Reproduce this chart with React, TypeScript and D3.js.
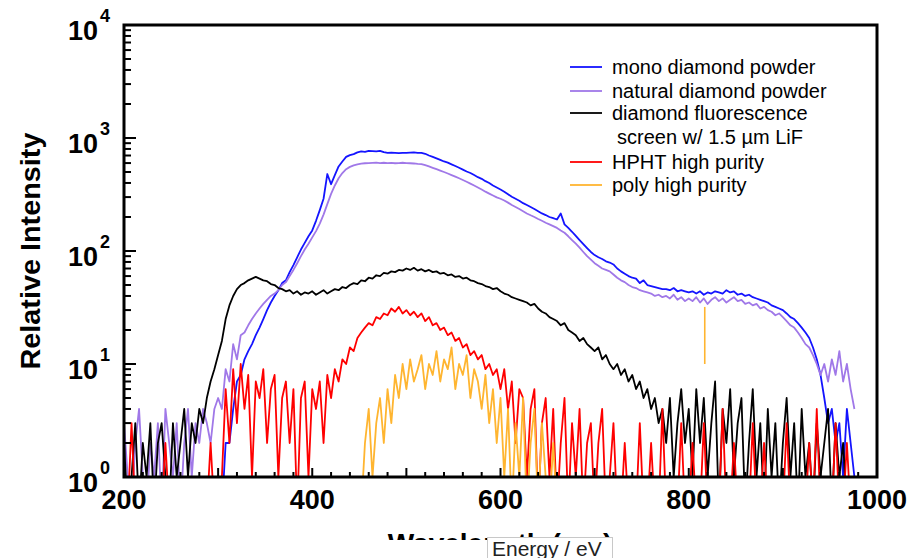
import React from "react";
import * as d3 from "d3";

// all spectra sampled every 4 nm
const STEP = 4;

const monoStart = 200;
const monoVals = [
  0, 0, 1, 0, 0, 0, 1, 0, 0, 0, 0, 0, 1, 0, 0, 0, 0, 1, 0, 0, 0, 0, 1, 0, 0,
  1, 0, 2, 2, 4, 7, 8, 11, 13, 15, 18, 21, 25, 30, 35, 40, 45, 52, 55, 65, 75, 88, 103, 118, 135,
  152, 185, 230, 290, 480, 390, 470, 560, 620, 680, 705, 720, 745, 760, 755, 770, 765, 760, 770, 750, 740, 742, 738, 735, 740,
  738, 742, 745, 740, 738, 725, 700, 680, 660, 640, 620, 605, 585, 565, 545, 525, 505, 490, 470, 450, 435, 415, 400, 380, 365,
  350, 335, 318, 302, 290, 278, 265, 255, 245, 235, 225, 215, 208, 200, 195, 190, 215, 172, 160, 148, 136, 125, 115, 106, 98,
  92, 88, 85, 81, 79, 76, 70, 66, 63, 60, 58, 57, 52, 55, 50, 49, 48, 47, 46, 46, 45, 47, 44, 45, 44,
  43, 44, 42, 44, 41, 43, 42, 44, 43, 42, 45, 43, 44, 41, 42, 40, 41, 39, 38, 37, 36, 35, 33, 32, 31,
  30, 28, 26, 25, 23, 21, 19, 17, 14, 11, 8, 5, 3, 4, 2, 3, 1, 4, 2, 1,
];

const naturalStart = 200;
const naturalVals = [
  3, 1, 0, 2, 4, 1, 0, 2, 1, 3, 0, 4, 2, 1, 3, 0, 2, 4, 1, 3, 2, 4, 3, 2, 4,
  5, 4, 9, 7, 15, 11, 18, 19, 22, 25, 28, 31, 34, 37, 40, 42, 45, 50, 53, 60, 68, 78, 90, 103, 116,
  132, 150, 175, 210, 260, 320, 380, 440, 490, 530, 555, 572, 585, 592, 598, 600, 603, 606, 600, 604, 600, 602, 598, 600, 604,
  600, 598, 595, 590, 588, 575, 560, 545, 530, 515, 500, 485, 470, 455, 440, 425, 410, 395, 380, 365, 350, 335, 322, 310, 298,
  290, 280, 268, 255, 245, 235, 225, 215, 207, 200, 192, 185, 178, 172, 166, 160, 152, 145, 135, 125, 116, 107, 98, 90, 84,
  78, 74, 70, 68, 66, 62, 58, 55, 53, 50, 48, 47, 45, 44, 43, 42, 40, 41, 39, 40, 38, 41, 37, 39, 36,
  38, 36, 39, 35, 38, 34, 37, 39, 36, 38, 35, 37, 39, 36, 37, 34, 35, 33, 34, 31, 32, 30, 29, 27, 28,
  26, 24, 22, 21, 19, 17, 15, 14, 12, 10, 8, 10, 7, 11, 8, 13, 7, 10, 6, 4,
];

const screenStart = 200;
const screenVals = [
  2, 0, 1, 3, 0, 2, 1, 3, 0, 2, 3, 1, 0, 3, 1, 2, 4, 1, 3, 2, 4, 3, 5, 7, 9,
  12, 16, 25, 33, 40, 46, 50, 52, 55, 57, 59, 57, 55, 54, 51, 50, 47, 46, 44, 45, 42, 44, 41, 43, 42,
  44, 41, 43, 45, 42, 44, 46, 45, 48, 47, 50, 52, 51, 55, 54, 58, 57, 61, 60, 64, 63, 66, 65, 68, 67,
  70, 68, 71, 67, 69, 66, 68, 65, 66, 63, 64, 61, 62, 59, 60, 57, 58, 55, 54, 52, 51, 49, 48, 46, 47,
  44, 42, 41, 39, 38, 37, 36, 35, 33, 34, 31, 29, 28, 26, 25, 24, 22, 23, 20, 19, 18, 16, 17, 15, 14,
  13, 14, 11, 12, 10, 9, 10, 8, 9, 7, 8, 6, 7, 5, 6, 4, 5, 3, 4, 2, 5, 1, 3, 6, 2,
  4, 1, 6, 2, 5, 1, 3, 7, 0, 4, 2, 6, 1, 3, 5, 0, 2, 6, 1, 3, 0, 4, 1, 3, 0,
  2, 5, 1, 3, 0, 4, 1, 2, 0, 3, 1, 2, 4, 0, 3, 1, 2, 0, 1, 0, 1,
];

const hphtStart = 200;
const hphtVals = [
  0, 0, 3, 0, 0, 0, 1, 0, 0, 0, 0, 2, 0, 0, 0, 0, 0, 1, 0, 0, 0, 0, 0, 2, 0,
  0, 1, 6, 2, 9, 3, 10, 4, 8, 1, 7, 5, 9, 2, 6, 8, 1, 5, 7, 2, 6, 0, 5, 7, 1,
  6, 4, 7, 2, 8, 5, 9, 7, 11, 10, 14, 13, 17, 19, 21, 23, 22, 26, 25, 28, 27, 31, 29, 32, 28,
  30, 27, 29, 26, 28, 24, 26, 22, 23, 20, 21, 18, 19, 16, 17, 14, 15, 12, 13, 11, 12, 9, 10, 8, 9,
  6, 9, 4, 7, 2, 6, 5, 1, 4, 6, 0, 3, 5, 1, 4, 0, 2, 5, 0, 3, 1, 4, 0, 2, 3,
  0, 2, 4, 0, 1, 3, 0, 0, 2, 0, 1, 0, 3, 0, 0, 2, 0, 0, 4, 0, 0, 1, 0, 3, 0,
  0, 2, 0, 0, 3, 0, 0, 1, 0, 4, 0, 0, 2, 0, 0, 1, 0, 3, 0, 0, 2, 0, 0, 1, 0,
  0, 3, 0, 0, 1, 0, 0, 2, 0, 4, 0, 0, 1, 0, 3, 0, 0, 2, 0, 0,
];

const polyStart = 440;
const polyVals = [
  0, 0, 1, 0, 2, 4, 1, 3, 5, 2, 6, 3, 8, 5, 10, 6, 11, 7, 9, 12, 6, 10, 8, 13, 7,
  11, 9, 14, 6, 10, 8, 12, 5, 9, 7, 4, 8, 3, 6, 2, 5, 1, 4, 0, 3, 1, 5, 0, 2, 4,
  0, 3, 1, 0, 2, 0, 0,
];
// lone spike in the poly trace
const polySpike: [number, number][] = [[817, 10], [817, 32]];

const legendLabels = [
  "mono diamond powder",
  "natural diamond powder",
  "diamond fluorescence",
  "HPHT high purity",
  "poly high purity",
];
const colors = ["#1414ff", "#a078e8", "#000000", "#ff0000", "#ffb530"];

const xTickLabels = [200, 400, 600, 800, 1000];

const toPts = (start: number, vals: number[]): [number, number][] =>
  vals.map((v, i) => [start + i * STEP, v]);

const FONT = "'Liberation Sans', Arial, sans-serif";

export default function App() {
  const width = 914;
  const height = 558;
  const plot = { left: 124, right: 877, top: 25, bottom: 477 };

  const x = d3.scaleLinear().domain([200, 1000]).range([plot.left, plot.right]);
  const y = d3.scaleLog().domain([1, 10000]).range([plot.bottom, plot.top]);

  const line = d3
    .line<[number, number]>()
    .x((d) => x(d[0]))
    .y((d) => y(Math.max(d[1], 0.5)));

  const series = [
    toPts(monoStart, monoVals),
    toPts(naturalStart, naturalVals),
    toPts(screenStart, screenVals),
    toPts(hphtStart, hphtVals),
    toPts(polyStart, polyVals),
  ];

  const yTicks = y.ticks();
  const xTicks = d3.range(200, 1001, 20);

  return (
    <div style={{ position: "absolute", left: 0, top: 0 }}>
      <svg width={width} height={height} style={{ display: "block", background: "#fff" }}>
        <defs>
          <clipPath id="plotClip">
            <rect x={plot.left} y={plot.top} width={plot.right - plot.left} height={plot.bottom - plot.top} />
          </clipPath>
        </defs>

        <g clipPath="url(#plotClip)">
          {series.map((pts, i) => (
            <path key={i} d={line(pts) || ""} fill="none" stroke={colors[i]} strokeWidth={1.8} strokeLinejoin="round" />
          ))}
          <path d={line(polySpike) || ""} fill="none" stroke={colors[4]} strokeWidth={1.6} />
        </g>

        {/* ticks, pointing inward */}
        {yTicks.map((t, i) => {
          const major = Math.abs(Math.log10(t) - Math.round(Math.log10(t))) < 1e-6;
          return (
            <line key={"yt" + i} x1={plot.left} x2={plot.left + (major ? 12 : 7)} y1={y(t)} y2={y(t)} stroke="#000" strokeWidth={2} />
          );
        })}
        {xTicks.map((t) => (
          <line key={"xt" + t} x1={x(t)} x2={x(t)} y1={plot.bottom} y2={plot.bottom - (t % 100 === 0 ? 9 : 5)} stroke="#000" strokeWidth={2} />
        ))}

        <rect x={plot.left} y={plot.top} width={plot.right - plot.left} height={plot.bottom - plot.top} fill="none" stroke="#000" strokeWidth={3} />

        {/* y tick labels 10^n */}
        {[0, 1, 2, 3, 4].map((p) => (
          <g key={"yl" + p} fontFamily={FONT} fontWeight="bold">
            <text x={98} y={y(Math.pow(10, p)) + 15} fontSize={27} textAnchor="end">10</text>
            <text x={100} y={y(Math.pow(10, p)) - 3} fontSize={18}>{p}</text>
          </g>
        ))}

        {xTickLabels.map((t) => (
          <text key={"xl" + t} x={x(t)} y={509} fontFamily={FONT} fontWeight="bold" fontSize={27} textAnchor="middle">{t}</text>
        ))}

        <text transform={`translate(40,${(plot.top + plot.bottom) / 2}) rotate(-90)`} textAnchor="middle" fontFamily={FONT} fontWeight="bold" fontSize={28} textLength={237} lengthAdjust="spacingAndGlyphs">
          Relative Intensity
        </text>

        {/* x title, mostly hidden under the energy box */}
        <text x={500} y={553} textAnchor="middle" fontFamily={FONT} fontWeight="bold" fontSize={28}>Wavelength (nm)</text>
        <rect x={360} y={540} width={280} height={18} fill="#fff" />
        <rect x={487.5} y={537.5} width={125} height={24} fill="#fff" stroke="#c8c8c8" strokeWidth={1} />
        <text x={492} y={556} fontFamily={FONT} fontSize={21} fill="#222">Energy / eV</text>

        {/* legend */}
        <g fontFamily={FONT} fontSize={20}>
          {[67, 91, 113, 162, 185].map((ly, i) => (
            <g key={"lg" + i}>
              <line x1={570} x2={602} y1={ly} y2={ly} stroke={colors[i]} strokeWidth={1.8} />
              <text x={612} y={ly + 6.5}>{legendLabels[i]}</text>
            </g>
          ))}
          <text x={617} y={143.5}>screen w/ 1.5 µm LiF</text>
        </g>
      </svg>
    </div>
  );
}
